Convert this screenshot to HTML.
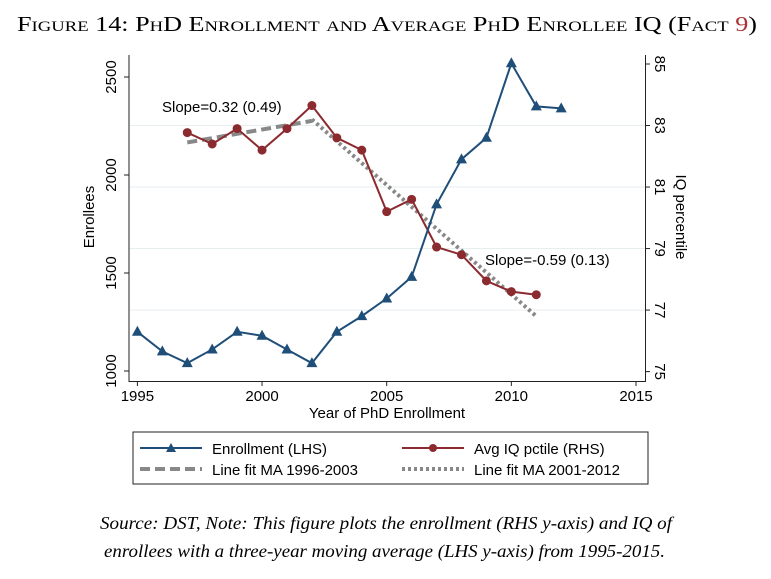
<!DOCTYPE html>
<html><head><meta charset="utf-8"><style>
body{margin:0;background:#fff;width:771px;height:574px;overflow:hidden}
svg text{font-family:"Liberation Sans",sans-serif}
</style></head><body>
<svg width="771" height="574" xmlns="http://www.w3.org/2000/svg">
<text x="17" y="31" textLength="740" lengthAdjust="spacingAndGlyphs" style="font-family:'Liberation Serif',serif;font-size:21px;font-variant:small-caps">Figure 14: PhD Enrollment and Average PhD Enrollee IQ (Fact <tspan fill="#a33">9</tspan>)</text>
<g id="plot"></g>
<g>
<rect x="133" y="432" width="515" height="52" fill="#fff" stroke="#222" stroke-width="1"/>
<line x1="140" y1="448" x2="202" y2="448" stroke="#1f4e79" stroke-width="2"/><polygon points="171,443 176,452 166,452" fill="#1f4e79"/>
<text x="212" y="454" font-size="15">Enrollment (LHS)</text>
<line x1="402" y1="448" x2="464" y2="448" stroke="#8b2a2f" stroke-width="2"/><circle cx="433" cy="448" r="4" fill="#8b2a2f"/>
<text x="474" y="454" font-size="15">Avg IQ pctile (RHS)</text>
<line x1="140" y1="469" x2="202" y2="469" stroke="#888" stroke-width="4" stroke-dasharray="10,5"/>
<text x="212" y="475" font-size="15">Line fit MA 1996-2003</text>
<line x1="402" y1="469" x2="464" y2="469" stroke="#888" stroke-width="4" stroke-dasharray="3,3"/>
<text x="474" y="475" font-size="15">Line fit MA 2001-2012</text>
</g>
<text x="100" y="529" textLength="572" lengthAdjust="spacingAndGlyphs" style="font-family:'Liberation Serif',serif;font-style:italic;font-size:17.5px">Source: DST, Note: This figure plots the enrollment (RHS y-axis) and IQ of</text>
<text x="104" y="557" textLength="561" lengthAdjust="spacingAndGlyphs" style="font-family:'Liberation Serif',serif;font-style:italic;font-size:17.5px">enrollees with a three-year moving average (LHS y-axis) from 1995-2015.</text>
</svg>
<script>
const years=[1995,1996,1997,1998,1999,2000,2001,2002,2003,2004,2005,2006,2007,2008,2009,2010,2011,2012];
const enrollment=[1200,1100,1040,1110,1200,1180,1110,1040,1200,1280,1370,1480,1850,2080,2190,2570,2350,2340];
const iqYears=[1997,1998,1999,2000,2001,2002,2003,2004,2005,2006,2007,2008,2009,2010,2011];
const iq=[82.77,82.4,82.9,82.2,82.9,83.65,82.6,82.2,80.2,80.6,79.05,78.8,77.95,77.6,77.5];
const fit1X=[1997,2002],fit1Y=[82.45,83.15];
const fit2X=[2002,2011],fit2Y=[83.2,76.8];
const xTicks=[1995,2000,2005,2010,2015];
const yLTicks=[1000,1500,2000,2500];
const yRTicks=[75,77,79,81,83,85];
const ns='http://www.w3.org/2000/svg';
const X=v=>137.4+(v-1995)*(636-137.4)/20;
const YL=v=>371-(v-1000)*(371-77)/1500;
const YR=v=>371.6-(v-75)*(371.6-64)/10;
const g=document.getElementById('plot');
function el(t,a,p){const e=document.createElementNS(ns,t);for(const k in a)e.setAttribute(k,a[k]);(p||g).appendChild(e);return e;}
yRTicks.forEach(v=>{if(v>75&&v<85){const l=el('line',{x1:129,x2:645,y1:YR(v),y2:YR(v),stroke:'#e6eef0','stroke-width':1});

}});
let a=el('line',{x1:129,x2:129,y1:55,y2:382,stroke:'#222'});


a=el('line',{x1:645.5,x2:645.5,y1:55,y2:382,stroke:'#222'});


a=el('line',{x1:129,x2:645.5,y1:381.5,y2:381.5,stroke:'#222'});


xTicks.forEach(v=>{el('line',{x1:X(v),x2:X(v),y1:381.5,y2:386,stroke:'#222'});
const t=el('text',{x:X(v),y:401,'text-anchor':'middle','font-size':15});t.textContent=v;

});
yLTicks.forEach(v=>{el('line',{x1:124,x2:129,y1:YL(v),y2:YL(v),stroke:'#222'});
const t=el('text',{x:0,y:0,'text-anchor':'middle','font-size':15,transform:`translate(116,${YL(v)}) rotate(-90)`});t.textContent=v;

});
yRTicks.forEach(v=>{el('line',{x1:645.5,x2:650,y1:YR(v),y2:YR(v),stroke:'#222'});
const t=el('text',{x:0,y:0,'text-anchor':'middle','font-size':15,transform:`translate(655,${YR(v)}) rotate(90)`});t.textContent=v;

});
let t=el('text',{x:387,y:418,'text-anchor':'middle','font-size':15});t.textContent='Year of PhD Enrollment';


t=el('text',{x:0,y:0,'text-anchor':'middle','font-size':15,transform:'translate(94,217) rotate(-90)'});t.textContent='Enrollees';


t=el('text',{x:0,y:0,'text-anchor':'middle','font-size':15,transform:'translate(676,217) rotate(90)'});t.textContent='IQ percentile';


let p=el('polyline',{points:fit1X.map((x,i)=>X(x)+','+YR(fit1Y[i])).join(' '),fill:'none',stroke:'#888','stroke-width':4,'stroke-dasharray':'10,5'});


p=el('polyline',{points:fit2X.map((x,i)=>X(x)+','+YR(fit2Y[i])).join(' '),fill:'none',stroke:'#888','stroke-width':4,'stroke-dasharray':'3,3'});


p=el('polyline',{points:iqYears.map((x,i)=>X(x)+','+YR(iq[i])).join(' '),fill:'none',stroke:'#8b2a2f','stroke-width':2});


iqYears.forEach((x,i)=>{const c=el('circle',{cx:X(x),cy:YR(iq[i]),r:4.5,fill:'#8b2a2f'});

});
p=el('polyline',{points:years.map((x,i)=>X(x)+','+YL(enrollment[i])).join(' '),fill:'none',stroke:'#1f4e79','stroke-width':2});


years.forEach((x,i)=>{const cx=X(x),cy=YL(enrollment[i]);const m=el('polygon',{points:`${cx},${cy-6} ${cx+5.5},${cy+4} ${cx-5.5},${cy+4}`,fill:'#1f4e79'});

});
t=el('text',{x:162,y:112,'font-size':15});t.textContent='Slope=0.32 (0.49)';


t=el('text',{x:485,y:265,'font-size':15});t.textContent='Slope=-0.59 (0.13)';


</script>
</body></html>
